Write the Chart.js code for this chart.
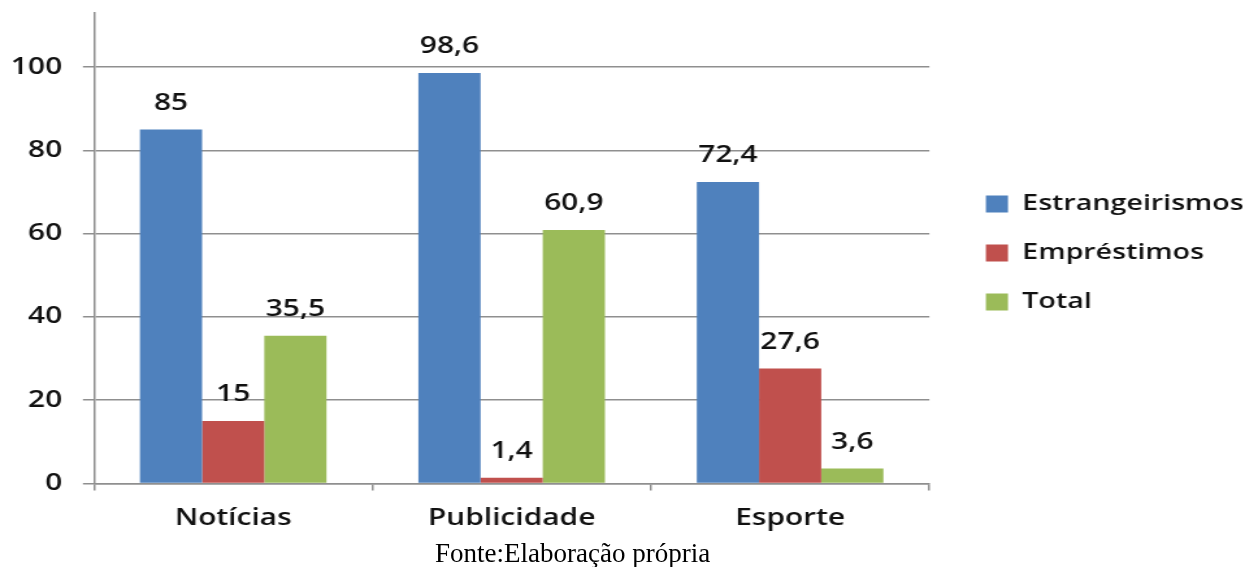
<!DOCTYPE html>
<html>
<head>
<meta charset="utf-8">
<script src="https://cdn.jsdelivr.net/npm/chart.js@4"></script>
<style>
  body { margin: 0; background: #fff; overflow: hidden; width: 1259px; height: 567px; position: relative; }
  #c { position: absolute; left: 0; top: 0; }
  #fonte {
    position: absolute; left: 435px; top: 540px;
    font-family: "Liberation Serif", "Times New Roman", serif;
    font-size: 27px; line-height: 27px; color: #000; white-space: nowrap;
  }
</style>
</head>
<body>
<canvas id="c" width="968" height="567" style="width:1258.4px;height:567px"></canvas>
<div id="fonte">Fonte:Elaboração própria</div>
<script>
// data
const categories = ["Notícias", "Publicidade", "Esporte"];
const estrangeirismos = [85, 98.6, 72.4];
const emprestimos = [15, 1.4, 27.6];
const total = [35.5, 60.9, 3.6];
const seriesNames = ["Estrangeirismos", "Empréstimos", "Total"];
const seriesColors = ["#4F81BD", "#C0504D", "#9BBB59"];

const FONT = "'Open Sans', sans-serif";
const WEIGHT = "600";
const TXT = "#111";
const LINE = "#8f8f8f";

// value labels above the bars, comma as decimal sign
const barLabels = {
  id: "barLabels",
  afterDatasetsDraw(chart) {
    const ctx = chart.ctx;
    ctx.save();
    ctx.font = WEIGHT + " 23px " + FONT;
    ctx.fillStyle = TXT;
    ctx.textAlign = "center";
    ctx.textBaseline = "alphabetic";
    chart.data.datasets.forEach((ds, i) => {
      chart.getDatasetMeta(i).data.forEach((bar, j) => {
        ctx.fillText(String(ds.data[j]).replace(".", ","), bar.x, bar.y - 20);
      });
    });
    ctx.restore();
  }
};

// push the legend a bit further from the plot
const legendGap = {
  id: "legendGap",
  afterLayout(chart) {
    chart.legend.left += 16.5;
    chart.legend.right += 16.5;
  }
};

new Chart(document.getElementById("c"), {
  type: "bar",
  data: {
    labels: categories,
    datasets: [estrangeirismos, emprestimos, total].map((d, i) => ({
      label: seriesNames[i],
      data: d,
      backgroundColor: seriesColors[i],
      borderWidth: 0,
      categoryPercentage: 0.67,
      barPercentage: 1
    }))
  },
  options: {
    responsive: false,
    animation: false,
    layout: { padding: { left: 7.8, top: 13, right: 17.5, bottom: 34.5 } },
    plugins: {
      tooltip: { enabled: false },
      legend: {
        position: "right",
        fullSize: false,
        title: { display: true, text: "", font: { size: 8 }, padding: 0 },
        labels: {
          font: { family: FONT, size: 22, weight: WEIGHT },
          color: TXT,
          boxWidth: 17,
          boxHeight: 17,
          padding: 27
        }
      }
    },
    scales: {
      x: {
        grid: { drawOnChartArea: false, drawTicks: true, tickLength: 7, color: LINE, lineWidth: 1.5 },
        border: { color: LINE, width: 1.5 },
        ticks: { font: { family: FONT, size: 23, weight: WEIGHT }, color: TXT, padding: 14, maxRotation: 0 },
        afterFit: s => { s.height = 49; s.paddingLeft = 0; s.paddingRight = 0; }
      },
      y: {
        min: 0,
        max: 113,
        afterBuildTicks: axis => { axis.ticks = axis.ticks.filter(t => t.value % 20 === 0); },
        grid: { color: LINE, lineWidth: 1.5, tickLength: 8.5 },
        border: { color: LINE, width: 1.5 },
        ticks: { stepSize: 20, font: { family: FONT, size: 23, weight: WEIGHT }, color: TXT, padding: 16 },
        afterFit: s => { s.width = 64.5; s.paddingTop = 0; s.paddingBottom = 0; }
      }
    }
  },
  plugins: [barLabels, legendGap]
});
</script>
</body>
</html>
